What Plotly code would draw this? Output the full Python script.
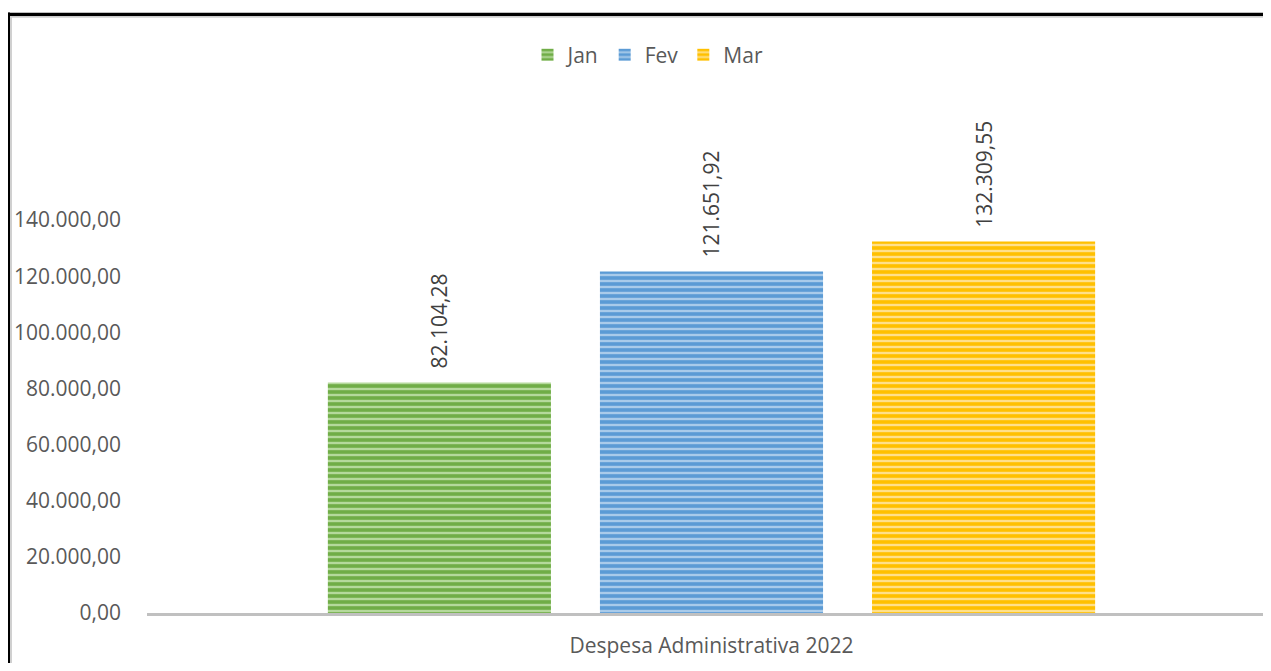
import plotly.graph_objects as go

category = ["Despesa Administrativa 2022"]
series_names = ["Jan", "Fev", "Mar"]
values = [82104.28, 121651.92, 132309.55]
colors = ["#70AD47", "#5B9BD5", "#FFC000"]
light = ["#B5D99C", "#A9CBEA", "#FFE08A"]
tick_vals = [0, 20000, 40000, 60000, 80000, 100000, 120000, 140000]

# page body has an 8px margin; figure sized to fit the viewport
OFF = 8
W, H = 1255, 655
ML, MR, MT, MB = 139, 0, 90, 50
pw = W - ML - MR
ph = H - MT - MB

def px2x(sx):
    return (sx - OFF - ML) / pw

def py2y(sy):
    return (H - MB - (sy - OFF)) / ph

fig = go.Figure()
for name, v, c, lc in zip(series_names, values, colors, light):
    fig.add_trace(go.Bar(
        x=category, y=[v], name=name,
        marker=dict(color=c, line=dict(width=0),
                    pattern=dict(shape="-", fgcolor=lc, bgcolor=c, size=6, solidity=0.4, fillmode="replace")),
        texttemplate="\u00a0\u00a0%{y:,.2f}", textposition="outside", textangle=-90,
        textfont=dict(size=21, color="#404040", family="Open Sans"),
        cliponaxis=False,
    ))

fig.update_layout(
    width=W, height=H,
    margin=dict(l=ML, r=MR, t=MT, b=MB),
    paper_bgcolor="white", plot_bgcolor="white",
    separators=",.",
    barmode="group", bargap=0.277, bargroupgap=0.18,
    font=dict(family="Open Sans", color="#595959", size=21),
    legend=dict(orientation="h", x=px2x(648), xanchor="center", y=py2y(55), yanchor="middle",
                font=dict(size=21, color="#595959"), itemwidth=30, traceorder="normal"),
    xaxis=dict(showline=True, linecolor="#C0C0C0", linewidth=3, showgrid=False, ticks="",
               range=[-0.5, 0.4885],
               tickfont=dict(size=21, color="#595959"), ticklabelstandoff=12, fixedrange=True),
    yaxis=dict(range=[0, ph / 0.002807], tickvals=tick_vals, tickformat=",.2f", showgrid=False,
               zeroline=False, showline=False, ticks="", ticklabelstandoff=25,
               tickfont=dict(size=21, color="#595959")),
    shapes=[
        dict(type="line", xref="paper", yref="paper", x0=px2x(8), x1=px2x(8), y0=py2y(12.5), y1=py2y(700),
             line=dict(color="black", width=4)),
        dict(type="line", xref="paper", yref="paper", x0=px2x(6), x1=px2x(1300), y0=py2y(14.5), y1=py2y(14.5),
             line=dict(color="black", width=3.5)),
        dict(type="line", xref="paper", yref="paper", x0=px2x(11), x1=px2x(11), y0=py2y(16), y1=py2y(700),
             line=dict(color="#D0D0D0", width=2)),
        dict(type="line", xref="paper", yref="paper", x0=px2x(10), x1=px2x(1300), y0=py2y(17), y1=py2y(17),
             line=dict(color="#D0D0D0", width=1.5)),
    ],
)

fig.write_html("out.html")
